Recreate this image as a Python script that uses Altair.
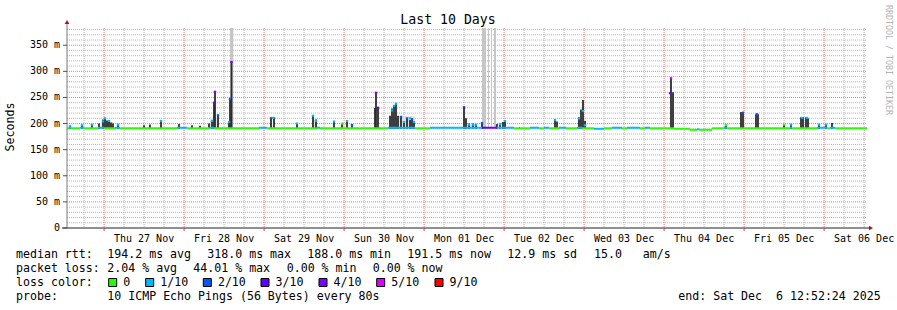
import altair as alt
import pandas as pd

# ---------------- values ----------------
# x positions are hours since the window start (Wed 26 Nov 12:52:24, 10 days = 240 h)
SPAN_H = 240
Y_MAX = 383
first_midnight_h = 11.1267          # Thu 27 Nov 00:00

day_labels = ["Thu 27 Nov", "Fri 28 Nov", "Sat 29 Nov", "Sun 30 Nov", "Mon 01 Dec",
              "Tue 02 Dec", "Wed 03 Dec", "Thu 04 Dec", "Fri 05 Dec", "Sat 06 Dec"]
y_ticks = [0, 50, 100, 150, 200, 250, 300, 350]

loss_labels = ["0", "1/10", "2/10", "3/10", "4/10", "5/10", "9/10"]
loss_colors = ["#26ff00", "#00b8ff", "#0059ff", "#5e00ff", "#7e00ff", "#dd00ff", "#ff0000"]

# median line, baseline segments (start h, end h, median ms, loss class)
base_start = [0, 0.6, 1.2, 3.9, 5.1, 9.3, 11.1, 14.4, 15.9, 33.0, 36.0, 42.9, 44.1, 57.6,
              60.0, 75.0, 75.9, 96.3, 97.5, 104.4, 108.9, 124.5, 127.2, 129.0, 134.1, 135.6,
              135.9, 138.9, 141.6, 143.1, 144.6, 147.6, 149.7, 153.0, 154.5, 158.1, 161.1,
              163.5, 166.5, 168.0, 171.9, 173.4, 174.9, 182.1, 186.9, 189.0, 189.6, 193.5,
              197.1, 198.0, 216.9, 217.5, 225.0, 228.0, 228.9, 230.4]
base_end = [0.6, 1.2, 3.9, 5.1, 9.3, 11.1, 14.4, 15.9, 33.0, 36.0, 42.9, 44.1, 57.6, 60.0,
            75.0, 75.9, 96.3, 97.5, 104.4, 108.9, 124.5, 127.2, 129.0, 134.1, 135.6, 135.9,
            138.9, 141.6, 143.1, 144.6, 147.6, 149.7, 153.0, 154.5, 158.1, 161.1, 163.5,
            166.5, 168.0, 171.9, 173.4, 174.9, 182.1, 186.9, 189.0, 189.6, 193.5, 197.1,
            198.0, 216.9, 217.5, 225.0, 228.0, 228.9, 230.4, 240.0]
base_med = [191, 192, 191, 192, 191, 192, 191, 192, 191, 192, 191, 192, 191, 192,
            191, 192, 191, 192, 192, 191, 192, 192, 192, 192, 191, 192,
            191, 192, 191, 192, 191, 192, 191, 192, 191, 190, 191,
            192, 191, 192, 191, 192, 191, 190, 188, 189, 188, 191,
            192, 191, 192, 191, 192, 191, 192, 191]
base_loss = [0, 1, 0, 1, 0, 1, 0, 1, 0, 1, 0, 1, 0, 1,
             0, 1, 0, 1, 1, 0, 1, 3, 4, 1, 0, 1,
             0, 1, 0, 1, 0, 1, 0, 1, 0, 1, 0,
             1, 0, 1, 0, 1, 0, 0, 0, 1, 0, 0,
             1, 0, 1, 0, 1, 0, 1, 0]

# smoke spikes (hour, max ms)
spike_h = [0.9, 4.5, 7.5, 9.6, 10.8, 11.4, 12.0, 12.6, 13.2, 13.8, 15.3, 23.1, 24.9, 28.2,
           33.6, 37.5, 39.9, 42.6, 43.5, 44.1, 44.4, 45.3, 48.6, 48.9, 49.35, 61.2, 62.1,
           69.0, 73.8, 74.7, 80.1, 82.5, 84.0, 85.5, 92.4, 92.7, 93.3, 96.9, 97.5, 98.1,
           98.7, 99.3, 100.2, 101.1, 102.0, 102.9, 103.5, 104.1, 119.1, 119.7, 120.6,
           121.8, 122.7, 124.5, 129.0, 129.9, 130.8, 131.4, 146.4, 147.0, 153.6, 154.2,
           154.8, 155.4, 181.2, 181.8, 197.7, 202.2, 202.8, 206.7, 207.3, 215.1, 217.2,
           220.2, 220.8, 221.7, 222.3, 225.6, 227.7, 229.5]
spike_top = [196, 197, 199, 200, 208, 211, 206, 205, 202, 200, 199, 197, 198, 205,
             199, 197, 196, 200, 206, 241, 262, 217, 205, 248, 318, 212, 212,
             200, 216, 208, 205, 201, 205, 198, 230, 260, 232, 215, 229, 235,
             239, 215, 213, 204, 210, 207, 210, 204, 232, 210, 200,
             200, 199, 202, 199, 200, 203, 205, 208, 204, 212, 227,
             245, 205, 287, 260, 197, 222, 222, 218, 218, 198, 198,
             212, 212, 212, 210, 198, 198, 201]

# coloured median points on the spikes (hour, median ms, loss class)
med_h = [0.9, 4.5, 7.5, 10.8, 11.4, 12.6, 15.3, 28.2, 43.5, 44.1, 44.4, 45.3, 48.6, 48.9,
         49.35, 61.8, 69.0, 73.8, 74.7, 80.1, 82.5, 84.0, 85.5, 92.7, 93.3, 97.5, 98.1,
         98.7, 100.2, 101.1, 102.0, 102.9, 103.5, 104.1, 119.1, 120.6, 121.8, 122.7,
         124.5, 129.9, 131.4, 146.4, 153.6, 154.8, 155.4, 180.9, 181.2, 197.7, 202.8,
         207.0, 215.1, 217.2, 220.5, 222.0, 225.6, 227.7]
med_val = [195, 197, 198, 204, 210, 205, 198, 205, 205, 240, 261, 216, 203, 247,
           318, 211, 200, 215, 205, 204, 200, 205, 197, 259, 230, 225, 234,
           238, 213, 203, 210, 210, 208, 203, 231, 198, 198, 198,
           201, 199, 205, 207, 210, 224, 197, 258, 287, 197, 221,
           218, 198, 198, 211, 211, 198, 198]
med_loss = [1, 1, 1, 1, 1, 1, 1, 1, 1, 3, 4, 2, 1, 2,
            4, 1, 1, 1, 1, 1, 0, 1, 2, 4, 3, 1, 1,
            1, 2, 1, 2, 1, 2, 1, 3, 1, 1, 1,
            2, 1, 1, 1, 1, 1, 1, 4, 5, 0, 2,
            2, 0, 1, 1, 1, 1, 1]

# off-scale smoke columns (start h, end h)
tall_start = [48.9, 124.5, 126.3, 127.2, 128.1]
tall_end = [49.9, 125.7, 126.6, 127.5, 128.7]

# light smoke haze around busy periods (start h, end h, top ms)
haze_start = [10.2, 42.9, 73.5, 96.9, 119.1, 153.3]
haze_end = [13.8, 45.6, 75.0, 104.4, 123.0, 155.7]
haze_top = [203, 212, 207, 214, 198, 208]

# ---------------- layout ----------------
PX_L, PX_T = 67, 28
W, H = 800, 200
MONO = "DejaVu Sans Mono"
xs = alt.Scale(domain=[0, SPAN_H], nice=False, zero=False)
ys = alt.Scale(domain=[0, Y_MAX], nice=False, zero=False)


def X(f):
    return alt.X(f, type="quantitative", scale=xs, axis=None)


def Y(f):
    return alt.Y(f, type="quantitative", scale=ys, axis=None)


def text(s, x, y, size=11.6, color="#000000", align="left", angle=0, baseline="alphabetic"):
    return alt.Chart(pd.DataFrame({"t": [s.replace("  ", " \u00a0")]})).mark_text(
        font=MONO, fontSize=size, color=color, align=align, angle=angle, baseline=baseline
    ).encode(text="t:N", x=alt.value(x - PX_L), y=alt.value(y - PX_T))


# grid data
minor_y = pd.DataFrame({"v": [v for v in range(10, 390, 10) if v % 50 != 0 and v < Y_MAX]})
major_y = pd.DataFrame({"v": [v for v in range(50, 400, 50) if v < Y_MAX]})
minor_x = pd.DataFrame({"h": [first_midnight_h - 6 + 6 * k for k in range(41)
                              if 0 < first_midnight_h - 6 + 6 * k < SPAN_H
                              and k % 4 != 1]})
major_x = pd.DataFrame({"h": [first_midnight_h + 24 * k for k in range(10)]})

grid_gray = "#b6b6b6"
grid_red = "#e68282"

layers = []
layers.append(alt.Chart(minor_y).mark_rule(color=grid_gray, strokeDash=[1, 1], strokeWidth=1)
              .encode(y=Y("v"), x=alt.value(0), x2=alt.value(W)))
layers.append(alt.Chart(minor_x).mark_rule(color=grid_gray, strokeDash=[1, 1], strokeWidth=1)
              .encode(x=X("h"), y=alt.value(0), y2=alt.value(H)))
layers.append(alt.Chart(major_y).mark_rule(color=grid_red, strokeDash=[1, 1], strokeWidth=1)
              .encode(y=Y("v"), x=alt.value(0), x2=alt.value(W)))
layers.append(alt.Chart(major_x).mark_rule(color=grid_red, strokeDash=[1, 1], strokeWidth=1)
              .encode(x=X("h"), y=alt.value(0), y2=alt.value(H)))

# smoke
tall = pd.DataFrame({"a": tall_start, "b": tall_end, "lo": [191] * len(tall_start),
                     "hi": [Y_MAX] * len(tall_start)})
layers.append(alt.Chart(tall).mark_rect(color="#c6c6c6", clip=True)
              .encode(x=X("a"), x2="b", y=Y("lo"), y2="hi"))
haze = pd.DataFrame({"a": haze_start, "b": haze_end, "hi": haze_top})
haze["lo"] = 191
layers.append(alt.Chart(haze).mark_rect(color="#e2e2e2", clip=True)
              .encode(x=X("a"), x2="b", y=Y("lo"), y2="hi"))
sp = pd.DataFrame({"h": spike_h, "hi": spike_top})
sp["a"] = sp["h"] - 0.27
sp["b"] = sp["h"] + 0.27
sp["lo"] = 190
layers.append(alt.Chart(sp).mark_rect(color="#2c2c2c", clip=True)
              .encode(x=X("a"), x2="b", y=Y("lo"), y2="hi"))

# median line
base = pd.DataFrame({"a": base_start, "b": base_end, "m": base_med,
                     "c": [loss_colors[i] for i in base_loss]})
layers.append(alt.Chart(base).mark_rule(strokeWidth=2, clip=True)
              .encode(x=X("a"), x2="b", y=Y("m"), color=alt.Color("c:N", scale=None)))
med = pd.DataFrame({"h": med_h, "m": med_val, "c": [loss_colors[i] for i in med_loss]})
med["a"] = med["h"] - 0.36
med["b"] = med["h"] + 0.36
med["lo"] = med["m"] - 2.0
med["hi"] = med["m"] + 2.0
layers.append(alt.Chart(med).mark_rect(clip=True)
              .encode(x=X("a"), x2="b", y=Y("lo"), y2="hi", color=alt.Color("c:N", scale=None)))

# axes
dummy = pd.DataFrame({"d": [0]})
layers.append(alt.Chart(dummy).mark_rule(color="#7a7a7a", strokeWidth=1)
              .encode(x=alt.value(0), y=alt.value(-5), y2=alt.value(H)))
layers.append(alt.Chart(dummy).mark_rule(color="#202020", strokeWidth=1)
              .encode(x=alt.value(-5), x2=alt.value(W + 2), y=alt.value(H)))
layers.append(alt.Chart(dummy).mark_point(shape="triangle-up", filled=True, size=22,
                                          color="#a01818", opacity=1)
              .encode(x=alt.value(0), y=alt.value(-6)))
layers.append(alt.Chart(dummy).mark_point(shape="triangle-right", filled=True, size=22,
                                          color="#a01818", opacity=1)
              .encode(x=alt.value(W + 4), y=alt.value(H)))
ytk = pd.DataFrame({"v": y_ticks})
layers.append(alt.Chart(ytk).mark_rule(color="#505050")
              .encode(y=Y("v"), x=alt.value(-4), x2=alt.value(0)))
layers.append(alt.Chart(major_x).mark_rule(color="#d04040")
              .encode(x=X("h"), y=alt.value(H), y2=alt.value(H + 3)))

ylab = pd.DataFrame({"v": y_ticks,
                     "t": [("0\u00a0\u00a0" if v == 0 else f"{v}\u00a0m") for v in y_ticks]})
layers.append(alt.Chart(ylab).mark_text(font=MONO, fontSize=10, align="right", baseline="middle",
                                        color="#000000")
              .encode(y=Y("v"), x=alt.value(-7), text="t:N"))
xlab = pd.DataFrame({"h": [first_midnight_h + 12 + 24 * i for i in range(len(day_labels))],
                     "t": day_labels})
layers.append(alt.Chart(xlab).mark_text(font=MONO, fontSize=10, align="center",
                                        baseline="alphabetic", color="#000000")
              .encode(x=X("h"), y=alt.value(241.5 - PX_T), text="t:N"))

# titles and side texts
layers.append(text("Last 10 Days", 448, 24, size=13.2, align="center"))
layers.append(text("Seconds", 11, 127, size=11.6, align="center", angle=270, baseline="middle"))
layers.append(text("RRDTOOL / TOBI OETIKER", 888, 60, size=8.3, color="#b4b4b4",
                   align="center", angle=90, baseline="middle"))

# legend lines
L1, L2, L3, L4 = 258.3, 272.3, 286.3, 300.3
layers.append(text("median rtt:", 16, L1))
for s, x in [("194.2 ms avg", 107.3), ("318.0 ms max", 207.3), ("188.0 ms min", 307.3),
             ("191.5 ms now", 407.3), ("12.9 ms sd", 507.3), ("15.0", 594), ("am/s", 642.7)]:
    layers.append(text(s, x, L1))
layers.append(text("packet loss:", 16, L2))
for s, x in [("2.04 % avg", 107.3), ("44.01 % max", 193.3), ("0.00 % min", 286.7),
             ("0.00 % now", 372.7)]:
    layers.append(text(s, x, L2))
layers.append(text("loss color:", 16, L3))
sq_x = [108.7, 145.7, 203.3, 261.0, 319.0, 376.7, 435.0]
for lab, col, x in zip(loss_labels, loss_colors, sq_x):
    layers.append(alt.Chart(dummy).mark_rect(color=col, stroke="#000000", strokeWidth=1)
                  .encode(x=alt.value(x - PX_L), x2=alt.value(x - PX_L + 8),
                          y=alt.value(278.5 - PX_T), y2=alt.value(286.5 - PX_T)))
    layers.append(text(lab, x + 14.6, L3))
layers.append(text("probe:", 16, L4))
layers.append(text("10 ICMP Echo Pings (56 Bytes) every 80s", 107.3, L4))
layers.append(text("end: Sat Dec  6 12:52:24 2025", 678.3, L4))

chart = alt.layer(*layers).properties(
    width=W, height=H,
    padding={"left": PX_L, "top": PX_T, "right": 897 - PX_L - W, "bottom": 310 - PX_T - H},
    autosize=alt.AutoSizeParams(type="none"),
    background="#ffffff",
).configure_view(strokeWidth=0)

chart.save("out.html", embed_options={"renderer": "svg", "actions": False})
